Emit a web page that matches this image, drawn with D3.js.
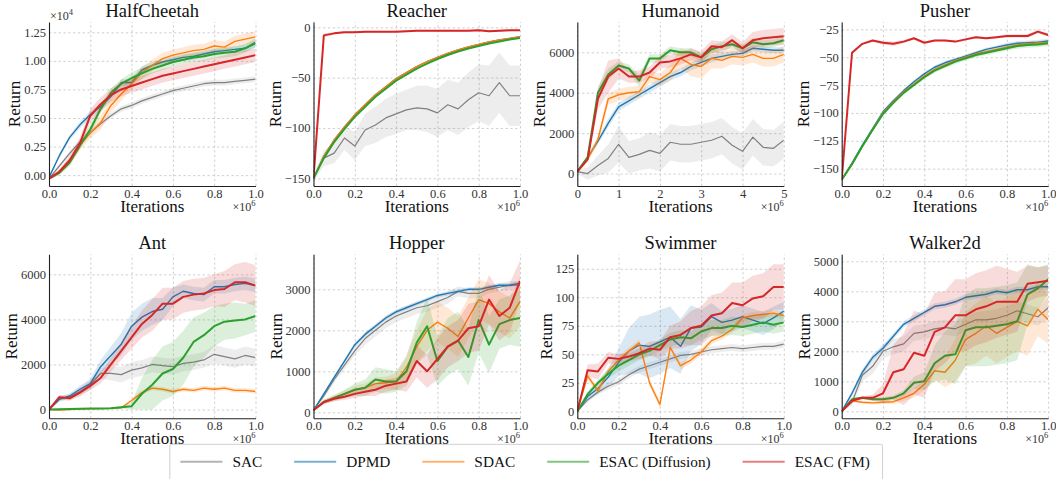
<!DOCTYPE html>
<html>
<head>
<meta charset="utf-8">
<script src="https://cdn.jsdelivr.net/npm/d3@7"></script>
<style>
  html, body { margin: 0; padding: 0; background: #fff; }
  svg text { font-family: "Liberation Serif", "DejaVu Serif", serif; }
</style>
</head>
<body>
<div id="chart"></div>
<script>
// iterations (x 1e6)
const steps1M = [0, 0.05, 0.1, 0.15, 0.2, 0.25, 0.3, 0.35, 0.4, 0.45, 0.5, 0.55, 0.6, 0.65, 0.7, 0.75, 0.8, 0.85, 0.9, 0.95, 1.0];
const steps5M = [0, 0.25, 0.5, 0.75, 1, 1.25, 1.5, 1.75, 2, 2.25, 2.5, 2.75, 3, 3.25, 3.5, 3.75, 4, 4.25, 4.5, 4.75, 5];

const methods = ['SAC', 'DPMD', 'SDAC', 'ESAC (Diffusion)', 'ESAC (FM)'];
const envNames = ['HalfCheetah', 'Reacher', 'Humanoid', 'Pusher', 'Ant', 'Hopper', 'Swimmer', 'Walker2d'];

// mean returns, one row per method (SAC, DPMD, SDAC, ESAC Diffusion, ESAC FM)
const halfCheetahMean = [
  [-300, 800, 1900, 2900, 3700, 4500, 5200, 5800, 6100, 6500, 6800, 7100, 7400, 7600, 7800, 8000, 8100, 8100, 8200, 8300, 8400],
  [-200, 1700, 3300, 4400, 5300, 6000, 6900, 8100, 8100, 9200, 9600, 9900, 10100, 10300, 10400, 10600, 10800, 10900, 11000, 11100, 11500],
  [-300, 300, 1200, 2600, 3700, 4600, 6100, 7100, 8000, 9000, 9600, 10200, 10500, 10700, 10900, 11000, 11300, 11200, 11700, 11900, 12100],
  [-300, 200, 1100, 2600, 4000, 5800, 7200, 8000, 8500, 8900, 9300, 9600, 9900, 10100, 10300, 10400, 10600, 10700, 10800, 11100, 11600],
  [-300, 300, 1300, 2800, 5200, 6200, 7000, 7500, 7800, 8100, 8400, 8700, 8900, 9100, 9300, 9500, 9700, 9900, 10100, 10300, 10500]
];
const halfCheetahBand = [
  [100, 150, 200, 250, 250, 250, 250, 250, 250, 250, 250, 250, 250, 250, 250, 250, 250, 250, 250, 250, 250],
  [100, 200, 200, 300, 300, 300, 300, 300, 300, 300, 300, 300, 300, 300, 300, 300, 300, 300, 300, 300, 300],
  [100, 200, 300, 400, 500, 600, 600, 600, 500, 500, 500, 500, 500, 500, 500, 500, 500, 500, 500, 500, 500],
  [100, 200, 300, 300, 400, 400, 400, 400, 500, 500, 400, 400, 400, 400, 400, 400, 400, 400, 400, 400, 400],
  [100, 200, 400, 500, 600, 600, 600, 600, 600, 600, 600, 600, 600, 600, 600, 600, 600, 600, 600, 600, 600]
];

const reacherMean = [
  [-150, -130, -125, -110, -118, -102, -97, -90, -86, -82, -80, -81, -85, -77, -81, -72, -65, -68, -55, -68, -68],
  [-150, -128, -112, -99, -87, -77, -67, -59, -51, -45, -39, -34, -30, -26, -22.5, -19.5, -17, -14.6, -12.6, -11, -9.3],
  [-150, -128, -112, -99, -87, -77, -67, -59, -51, -45, -39, -34, -30, -26, -22.5, -19.5, -17, -14.6, -12.6, -11, -9.3],
  [-150, -130, -114, -101, -89, -79, -69, -61, -53, -47, -41, -36, -31.5, -27.5, -24, -21, -18.5, -16, -14, -12, -10.5],
  [-150, -8, -6, -5, -5, -4.5, -4.5, -4.5, -4.5, -4, -3.5, -3.5, -3.5, -3.5, -3.5, -3.5, -3, -4, -3.5, -3, -3]
];
const reacherBand = [
  [3, 8, 10, 12, 14, 16, 18, 19, 20, 20, 22, 23, 24, 25, 26, 27, 28, 30, 30, 30, 30],
  [0.5, 0.5, 0.5, 0.5, 0.5, 0.5, 0.5, 0.5, 0.5, 0.5, 0.5, 0.5, 0.5, 0.5, 0.5, 0.5, 0.5, 0.5, 0.5, 0.5, 0.5],
  [0.5, 0.5, 0.5, 0.5, 0.5, 0.5, 0.5, 0.5, 0.5, 0.5, 0.5, 0.5, 0.5, 0.5, 0.5, 0.5, 0.5, 0.5, 0.5, 0.5, 0.5],
  [0.5, 0.5, 0.5, 0.5, 0.5, 0.5, 0.5, 0.5, 0.5, 0.5, 0.5, 0.5, 0.5, 0.5, 0.5, 0.5, 0.5, 0.5, 0.5, 0.5, 0.5],
  [1, 2, 1, 1, 1, 1, 1, 1, 1, 1, 1, 1, 1, 1, 1, 1, 1, 1, 1, 1, 1]
];

const humanoidMean = [
  [100, 0, 400, 750, 1450, 800, 950, 1150, 1000, 1550, 1450, 1450, 1550, 1650, 1850, 1400, 1100, 1800, 1300, 1250, 1650],
  [100, 800, 1600, 2500, 3300, 3600, 3900, 4200, 4500, 4800, 5000, 5300, 5500, 5700, 5800, 5900, 5950, 6200, 6150, 6100, 6100],
  [100, 700, 1700, 3700, 3900, 4000, 4050, 4800, 4650, 5000, 5700, 5400, 5300, 5700, 5600, 5800, 5750, 5900, 5700, 5700, 5900],
  [100, 800, 4000, 4900, 5350, 5200, 4600, 5700, 5700, 6100, 6000, 6000, 5750, 6150, 6300, 6400, 6200, 6500, 6400, 6450, 6600],
  [100, 700, 3700, 4800, 5200, 4800, 4800, 5000, 5500, 5550, 5700, 5900, 5750, 6300, 6250, 6600, 6200, 6600, 6700, 6750, 6800]
];
const humanoidBand = [
  [100, 300, 500, 700, 900, 800, 800, 900, 900, 900, 900, 900, 900, 900, 900, 900, 900, 900, 900, 900, 900],
  [50, 100, 150, 200, 200, 200, 200, 200, 200, 200, 200, 200, 200, 200, 150, 150, 150, 150, 150, 150, 150],
  [50, 100, 200, 300, 300, 300, 300, 300, 300, 400, 500, 600, 600, 500, 400, 400, 400, 400, 400, 400, 400],
  [50, 100, 300, 300, 200, 200, 300, 200, 200, 200, 200, 200, 200, 200, 200, 200, 200, 200, 200, 200, 200],
  [50, 100, 500, 800, 500, 300, 300, 300, 300, 300, 300, 300, 300, 300, 300, 300, 300, 400, 400, 400, 400]
];

const pusherMean = [
  null,
  [-160, -145, -129, -114, -99, -89, -80, -72, -65, -59, -55, -52, -49, -46, -43, -41, -39, -37.5, -37, -36.5, -35.5],
  [-160, -146, -130, -115, -100, -90, -81, -74, -67, -61, -57, -53, -50, -47, -45, -43, -41, -39, -38, -37.5, -37],
  [-160, -146, -130, -115, -101, -91, -82, -75, -68, -62, -58, -54, -51, -48, -46, -44, -42, -40, -39, -38.5, -37.5],
  [-160, -46, -38, -35, -37, -38, -36, -33, -37, -35, -35, -36, -34, -32, -33, -32, -31, -31, -31, -27, -30]
];
const pusherBand = [
  null,
  [0.5, 1, 1, 1.5, 1.5, 1.5, 1.5, 1.5, 1.5, 1.5, 1.5, 1.5, 1.5, 1.5, 1.5, 1.5, 2, 2, 2, 2, 2],
  [0.5, 1, 1, 1.5, 1.5, 1.5, 1.5, 1.5, 1.5, 1.5, 1.5, 1.5, 1.5, 1.5, 1.5, 1.5, 2, 2, 2, 2, 2],
  [0.5, 1, 1, 1.5, 1.5, 1.5, 1.5, 1.5, 1.5, 2, 2, 2, 2, 2, 2, 2, 2, 2.5, 2.5, 2.5, 2.5],
  [1, 1, 1, 1, 1.5, 2, 1.5, 1, 1, 1, 1, 1, 1, 1, 1, 1, 1.5, 1.5, 1.5, 1.5, 1.5]
];

const antMean = [
  [0, 500, 550, 800, 1100, 1600, 1600, 1550, 1750, 1850, 2000, 1950, 1900, 2050, 2100, 2200, 2450, 2350, 2250, 2400, 2300],
  [0, 450, 600, 900, 1150, 1900, 2400, 2900, 3700, 4100, 4350, 4450, 5000, 5250, 5150, 5100, 5450, 5450, 5550, 5600, 5500],
  [0, -20, 0, 20, 30, 40, 50, 80, 400, 750, 950, 900, 800, 900, 850, 950, 900, 950, 850, 850, 800],
  [0, 10, 20, 30, 40, 50, 60, 100, 150, 700, 1100, 1600, 1800, 2300, 3000, 3300, 3700, 3900, 3950, 4000, 4150],
  [0, 550, 500, 750, 1050, 1400, 2000, 2600, 3200, 3800, 4200, 4700, 4700, 5000, 5100, 5150, 5300, 5350, 5650, 5650, 5500]
];
const antBand = [
  [50, 100, 150, 200, 200, 250, 300, 350, 350, 350, 350, 350, 350, 350, 350, 350, 400, 400, 400, 400, 400],
  [50, 100, 100, 150, 200, 300, 400, 500, 600, 600, 600, 500, 400, 300, 300, 300, 300, 300, 300, 300, 300],
  [20, 20, 20, 20, 20, 20, 30, 40, 80, 100, 100, 100, 100, 100, 100, 100, 100, 100, 100, 100, 100],
  [20, 20, 20, 20, 20, 20, 30, 50, 150, 700, 1100, 1200, 1200, 1200, 1100, 1000, 900, 800, 800, 700, 700],
  [50, 100, 100, 150, 200, 250, 300, 400, 500, 600, 700, 700, 700, 700, 700, 700, 700, 800, 800, 900, 900]
];

const hopperMean = [
  [50, 400, 800, 1150, 1500, 1800, 2000, 2200, 2350, 2450, 2550, 2600, 2700, 2800, 2950, 2900, 2900, 3000, 3050, 3100, 3100],
  [50, 450, 850, 1250, 1650, 1900, 2100, 2300, 2450, 2550, 2650, 2750, 2850, 2900, 2950, 3000, 3000, 3050, 3100, 3100, 3150],
  [50, 250, 350, 450, 550, 600, 700, 720, 750, 1100, 1600, 2000, 2200, 2050, 1850, 2300, 2750, 2650, 2450, 2300, 2700],
  [50, 250, 350, 450, 550, 600, 800, 750, 750, 1000, 1700, 2100, 1250, 1600, 1750, 1350, 2250, 1650, 2150, 2250, 2300],
  [50, 250, 330, 380, 450, 500, 550, 650, 700, 750, 1250, 1000, 1300, 1600, 1750, 2050, 2100, 2750, 2350, 2550, 3200]
];
const hopperBand = [
  [20, 50, 80, 100, 120, 150, 150, 150, 150, 150, 150, 150, 150, 150, 120, 120, 120, 100, 100, 100, 100],
  [20, 30, 40, 50, 50, 50, 50, 50, 50, 50, 50, 50, 50, 50, 50, 50, 50, 50, 50, 50, 50],
  [20, 50, 60, 80, 100, 100, 150, 150, 200, 300, 400, 500, 500, 500, 500, 500, 500, 500, 500, 500, 600],
  [20, 50, 80, 100, 150, 200, 300, 300, 250, 350, 500, 700, 600, 700, 700, 700, 800, 700, 600, 600, 700],
  [20, 50, 60, 80, 100, 100, 150, 150, 150, 250, 400, 400, 500, 500, 500, 600, 600, 600, 600, 600, 500]
];

const swimmerMean = [
  [0, 10, 17, 22, 26, 32, 37, 40, 43, 46, 49, 50, 52, 54, 55, 56, 55, 56, 57, 57, 59],
  [0, 13, 20, 30, 43, 53, 58, 57, 61, 65, 57, 73, 74, 83, 78, 80, 83, 80, 77, 82, 88],
  [0, 31, 18, 35, 45, 53, 60, 25, 6, 56, 40, 45, 52, 62, 66, 72, 82, 84, 85, 86, 84],
  [0, 15, 25, 33, 40, 45, 50, 53, 58, 63, 65, 64, 70, 73, 73, 75, 74, 76, 78, 76, 78],
  [0, 36, 35, 47, 46, 48, 51, 55, 54, 65, 67, 73, 75, 84, 86, 95, 93, 99, 101, 109, 109]
];
const swimmerBand = [
  [0.5, 2, 2, 3, 3, 3, 3, 3, 3, 3, 3, 3, 3, 3, 3, 3, 3, 3, 3, 3, 3],
  [1, 3, 5, 8, 12, 20, 25, 28, 28, 27, 24, 20, 15, 12, 10, 10, 10, 10, 10, 10, 8],
  [1, 3, 3, 3, 3, 3, 3, 3, 3, 3, 3, 3, 3, 3, 3, 3, 3, 3, 3, 3, 3],
  [1, 2, 3, 4, 5, 5, 5, 5, 5, 6, 6, 6, 7, 7, 7, 8, 8, 8, 8, 8, 8],
  [1, 5, 7, 5, 4, 4, 5, 6, 8, 10, 12, 15, 17, 18, 18, 18, 20, 20, 20, 20, 20]
];

const walkerMean = [
  [0, 300, 1200, 1500, 2000, 2150, 2250, 2600, 2650, 2750, 2800, 2750, 2900, 3050, 3050, 3100, 3200, 3350, 3250, 3150, 3450],
  [0, 600, 1300, 1800, 2100, 2500, 2900, 3100, 3300, 3500, 3550, 3650, 3800, 3850, 3900, 4000, 3950, 4050, 4050, 4150, 4150],
  [0, 350, 300, 280, 300, 320, 450, 600, 900, 1350, 1300, 1700, 2400, 2600, 2850, 2600, 2800, 3000, 2850, 3400, 3050],
  [0, 400, 450, 400, 400, 450, 600, 950, 1000, 1600, 1850, 1900, 2700, 2800, 2800, 2850, 2900, 3000, 3900, 4100, 4400],
  [0, 350, 450, 450, 600, 1300, 1400, 1950, 1850, 2650, 2800, 3200, 3200, 3400, 3500, 3650, 3650, 3650, 4250, 4300, 4350]
];
const walkerBand = [
  [20, 100, 200, 250, 250, 250, 250, 250, 250, 250, 250, 250, 250, 250, 300, 300, 300, 300, 300, 300, 350],
  [20, 100, 100, 100, 100, 100, 100, 100, 100, 100, 100, 100, 100, 100, 100, 100, 100, 100, 100, 100, 100],
  [20, 50, 50, 50, 60, 80, 100, 150, 200, 300, 500, 700, 900, 1000, 1000, 1000, 1000, 1000, 1000, 900, 800],
  [20, 50, 50, 50, 60, 80, 100, 200, 300, 600, 800, 1000, 1200, 1300, 1300, 1300, 1300, 1300, 1000, 700, 500],
  [20, 50, 50, 100, 300, 900, 1200, 1400, 1400, 1300, 1200, 1200, 1200, 1200, 1200, 1200, 1100, 1000, 600, 500, 500]
];

// axis ticks and limits
const yTicks = [
  [0, 2500, 5000, 7500, 10000, 12500],
  [-150, -100, -50, 0],
  [0, 2000, 4000, 6000],
  [-150, -125, -100, -75, -50, -25],
  [0, 2000, 4000, 6000],
  [0, 1000, 2000, 3000],
  [0, 25, 50, 75, 100, 125],
  [0, 1000, 2000, 3000, 4000, 5000]
];
const yLimits = [[-950, 13400], [-157.7, 5.3], [-615, 7500], [-165.6, -18.4], [-390, 6890], [-146, 3854], [-6.1, 137.7], [-233, 5233]];
const xTicks1M = [0, 0.2, 0.4, 0.6, 0.8, 1.0];
const xTicks5M = [0, 1, 2, 3, 4, 5];

const allMeans = [halfCheetahMean, reacherMean, humanoidMean, pusherMean, antMean, hopperMean, swimmerMean, walkerMean];
const allBands = [halfCheetahBand, reacherBand, humanoidBand, pusherBand, antBand, hopperBand, swimmerBand, walkerBand];

// styles
const serif = '"Liberation Serif", "DejaVu Serif", serif';
const colors = ['#808080', '#1f77b4', '#ff7f0e', '#2ca02c', '#d62728'];
const lineWidths = [1.2, 1.4, 1.4, 2, 2];

const width = 1056, height = 479;
const colLeft = [49, 313.5, 577.3, 841.7];
const rowTop = [22, 254.3];
const plotW = 206.5, plotH = 164;

const svg = d3.select('#chart').append('svg')
    .attr('width', width)
    .attr('height', height)
    .attr('viewBox', `0 0 ${width} ${height}`);

svg.append('rect').attr('width', width).attr('height', height).attr('fill', '#fff');

const defs = svg.append('defs');

function serifText(sel, size, fill) {
    return sel.style('font-family', serif).style('font-size', size + 'px').attr('fill', fill);
}

envNames.forEach((env, i) => {
    const left = colLeft[i % 4];
    const top = rowTop[Math.floor(i / 4)];
    const bottom = top + plotH;
    const right = left + plotW;
    const isHumanoid = env === 'Humanoid';
    const steps = isHumanoid ? steps5M : steps1M;

    const x = d3.scaleLinear().domain([0, isHumanoid ? 5 : 1]).range([left, right]);
    const y = d3.scaleLinear().domain(yLimits[i]).range([bottom, top]);

    const g = svg.append('g').attr('class', 'panel');

    // grid
    const grid = g.append('g').attr('class', 'grid');
    grid.append('g')
        .attr('transform', `translate(${left},0)`)
        .call(d3.axisLeft(y).tickValues(yTicks[i]).tickSize(-plotW).tickFormat(''))
        .call(a => a.select('.domain').remove());
    grid.append('g')
        .attr('transform', `translate(0,${bottom})`)
        .call(d3.axisBottom(x).tickValues(isHumanoid ? xTicks5M : xTicks1M).tickSize(-plotH).tickFormat(''))
        .call(a => a.select('.domain').remove());
    grid.selectAll('line')
        .attr('stroke', '#c4c4c4')
        .attr('stroke-width', 0.8)
        .attr('stroke-dasharray', '2.4,2.4');

    // clip
    const clipId = 'clip-' + i;
    defs.append('clipPath').attr('id', clipId)
        .append('rect').attr('x', left).attr('y', top).attr('width', plotW).attr('height', plotH);

    const plot = g.append('g').attr('clip-path', `url(#${clipId})`);

    const area = d3.area()
        .x((d, k) => x(steps[k]))
        .y0(d => y(d[0] - d[1]))
        .y1(d => y(d[0] + d[1]));
    const line = d3.line()
        .x((d, k) => x(steps[k]))
        .y(d => y(d));

    methods.forEach((m, s) => {
        const mean = allMeans[i][s];
        const band = allBands[i][s];
        if (!mean) return;
        const rows = mean.map((v, k) => [v, band[k]]);
        plot.append('path')
            .datum(rows)
            .attr('d', area)
            .attr('fill', colors[s])
            .attr('fill-opacity', s === 0 ? 0.14 : 0.17)
            .attr('stroke', 'none');
        plot.append('path')
            .datum(mean)
            .attr('d', line)
            .attr('fill', 'none')
            .attr('stroke', colors[s])
            .attr('stroke-width', lineWidths[s])
            .attr('stroke-linejoin', 'round');
    });

    // axes
    const yFormat = env === 'HalfCheetah' ? (d => (d / 1e4).toFixed(2)) : d3.format('d');
    const yAxis = g.append('g')
        .attr('transform', `translate(${left},0)`)
        .call(d3.axisLeft(y).tickValues(yTicks[i]).tickSize(0).tickSizeOuter(0).tickPadding(3).tickFormat(yFormat));
    const xAxis = g.append('g')
        .attr('transform', `translate(0,${bottom})`)
        .call(d3.axisBottom(x).tickValues(isHumanoid ? xTicks5M : xTicks1M).tickSize(0).tickSizeOuter(0).tickPadding(3)
            .tickFormat(isHumanoid ? d3.format('d') : d3.format('.1f')));

    [yAxis, xAxis].forEach(a => {
        a.attr('font-family', null).attr('font-size', null);
        a.select('.domain').attr('stroke', '#222').attr('stroke-width', 1.1);
        serifText(a.selectAll('text'), 12.5, '#333');
    });

    // title
    serifText(g.append('text'), 18.5, '#111')
        .attr('x', (left + right) / 2)
        .attr('y', top - 5)
        .attr('text-anchor', 'middle')
        .text(env);

    // x label
    serifText(g.append('text'), 17, '#111')
        .attr('x', (left + right) / 2)
        .attr('y', bottom + 26)
        .attr('text-anchor', 'middle')
        .text('Iterations');

    // y label placed left of the tick labels (bbox is in the axis group's local frame)
    const bb = yAxis.node().getBBox();
    serifText(g.append('text'), 17, '#111')
        .attr('transform', `translate(${left + bb.x - 4},${(top + bottom) / 2}) rotate(-90)`)
        .attr('text-anchor', 'middle')
        .text('Return');

    // x offset text
    const xo = serifText(g.append('text'), 12, '#333')
        .attr('x', right)
        .attr('y', bottom + 25)
        .attr('text-anchor', 'end');
    xo.append('tspan').text('×10');
    xo.append('tspan').attr('dy', -5).style('font-size', '8.5px').text('6');

    if (env === 'HalfCheetah') {
        const yo = serifText(g.append('text'), 12, '#333')
            .attr('x', left + 1)
            .attr('y', top - 2);
        yo.append('tspan').text('×10');
        yo.append('tspan').attr('dy', -5).style('font-size', '8.5px').text('4');
    }
});

// legend
const legend = svg.append('g');
const legendItems = legend.append('g');
let cursor = 0;
methods.forEach((m, s) => {
    const item = legendItems.append('g').attr('transform', `translate(${cursor},0)`);
    item.append('line')
        .attr('x1', 0).attr('x2', 42)
        .attr('y1', 0).attr('y2', 0)
        .attr('stroke', colors[s])
        .attr('stroke-opacity', 0.6)
        .attr('stroke-width', 2);
    const t = serifText(item.append('text'), 15.3, '#111')
        .attr('x', 52)
        .attr('y', 5)
        .text(m);
    cursor += 52 + t.node().getComputedTextLength() + (s < methods.length - 1 ? 32 : 0);
});
const padL = 10.6, padR = 12.7;
const boxW = cursor + padL + padR;
const boxX = 526.2 - boxW / 2;
legend.insert('rect', ':first-child')
    .attr('x', boxX)
    .attr('y', 444.3)
    .attr('width', boxW)
    .attr('height', 50)
    .attr('rx', 2)
    .attr('fill', '#fff')
    .attr('stroke', '#cfcfcf')
    .attr('stroke-width', 1);
legendItems.attr('transform', `translate(${boxX + padL},461.7)`);
</script>
</body>
</html>
